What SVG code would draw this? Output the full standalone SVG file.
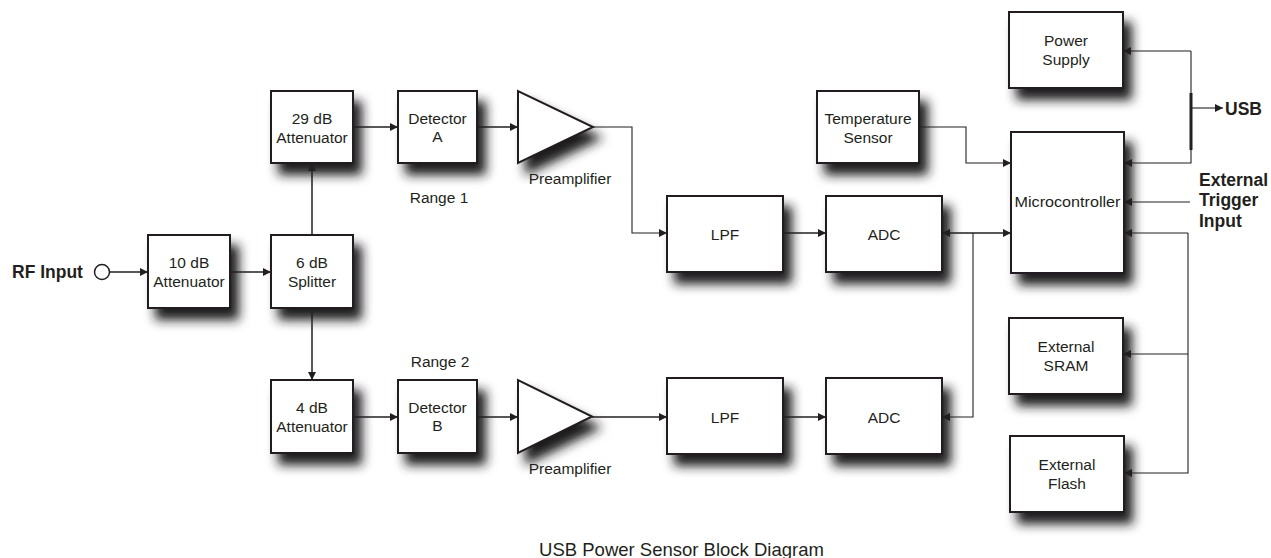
<svg xmlns="http://www.w3.org/2000/svg" width="1271" height="558" viewBox="0 0 1271 558">
<defs>
<filter id="sh" x="-30%" y="-30%" width="180%" height="190%">
<feDropShadow dx="8" dy="11" stdDeviation="5.5" flood-color="#1a1a1a" flood-opacity="1"/>
</filter>
<marker id="ah" viewBox="0 0 10 10" refX="10" refY="5" markerWidth="9" markerHeight="8" markerUnits="userSpaceOnUse" orient="auto-start-reverse">
<path d="M0,0 L10,5 L0,10 z" fill="#231f20"/>
</marker>
<style>
.box{fill:#fff;stroke:#231f20;stroke-width:2;filter:url(#sh)}
.t{font-family:"Liberation Sans",Arial,sans-serif;font-size:15.5px;fill:#231f20;text-anchor:middle}
.b{font-family:"Liberation Sans",Arial,sans-serif;font-size:17.5px;font-weight:bold;fill:#231f20}
.c{fill:none;stroke:#231f20;stroke-width:1.5}
.c2{fill:none;stroke:#231f20;stroke-width:1.1}
.a{marker-end:url(#ah)}
</style>
</defs>
<rect width="1271" height="558" fill="#fff"/>

<g id="nodes">
<g id="rf-input">
<text class="b" x="12" y="278">RF Input</text>
<circle cx="102" cy="272" r="7.5" fill="#fff" stroke="#231f20" stroke-width="1.5"/>
</g>
<g id="att10"><rect class="box" x="148" y="235" width="82" height="73"/>
<text class="t" x="189" y="268">10 dB</text><text class="t" x="189" y="287">Attenuator</text></g>
<g id="splitter"><rect class="box" x="271" y="235" width="82" height="73"/>
<text class="t" x="312" y="268">6 dB</text><text class="t" x="312" y="287">Splitter</text></g>
<g id="att29"><rect class="box" x="271" y="91" width="82" height="72"/>
<text class="t" x="312" y="123.5">29 dB</text><text class="t" x="312" y="142.5">Attenuator</text></g>
<g id="att4"><rect class="box" x="271" y="380" width="82" height="73"/>
<text class="t" x="312" y="412.5">4 dB</text><text class="t" x="312" y="431.5">Attenuator</text></g>
<g id="detA"><rect class="box" x="398" y="91" width="79" height="72"/>
<text class="t" x="437.5" y="123.5">Detector</text><text class="t" x="437.5" y="142">A</text></g>
<g id="detB"><rect class="box" x="398" y="380" width="79" height="73"/>
<text class="t" x="437.5" y="412.5">Detector</text><text class="t" x="437.5" y="431">B</text></g>
<g id="range1"><text class="t" x="439" y="203">Range 1</text></g>
<g id="range2"><text class="t" x="440" y="367">Range 2</text></g>
<g id="preampA"><path d="M518,91 L518,163 L593,127 Z" fill="#fff" stroke="#231f20" stroke-width="2" filter="url(#sh)"/>
<text class="t" x="570" y="184">Preamplifier</text></g>
<g id="preampB"><path d="M518,380 L518,453 L592,416.5 Z" fill="#fff" stroke="#231f20" stroke-width="2" filter="url(#sh)"/>
<text class="t" x="570" y="474">Preamplifier</text></g>
<g id="lpfA"><rect class="box" x="667" y="196" width="116" height="76"/>
<text class="t" x="725" y="239.5">LPF</text></g>
<g id="adcA"><rect class="box" x="826" y="196" width="116" height="76"/>
<text class="t" x="884" y="239.5">ADC</text></g>
<g id="lpfB"><rect class="box" x="667" y="378" width="116" height="76"/>
<text class="t" x="725" y="422.5">LPF</text></g>
<g id="adcB"><rect class="box" x="826" y="378" width="116" height="76"/>
<text class="t" x="884" y="422.5">ADC</text></g>
<g id="temp"><rect class="box" x="817" y="91" width="102" height="72"/>
<text class="t" x="868" y="123.5">Temperature</text><text class="t" x="868" y="142.5">Sensor</text></g>
<g id="power"><rect class="box" x="1009" y="12" width="114" height="76"/>
<text class="t" x="1066" y="46">Power</text><text class="t" x="1066" y="65">Supply</text></g>
<g id="micro"><rect class="box" x="1011" y="132" width="113" height="141"/>
<text class="t" x="1067.5" y="207" textLength="106" lengthAdjust="spacingAndGlyphs">Microcontroller</text></g>
<g id="sram"><rect class="box" x="1009" y="318" width="114" height="76"/>
<text class="t" x="1066" y="352">External</text><text class="t" x="1066" y="371">SRAM</text></g>
<g id="flash"><rect class="box" x="1010" y="436" width="114" height="76"/>
<text class="t" x="1067" y="470">External</text><text class="t" x="1067" y="489">Flash</text></g>
<g id="usb"><text class="b" x="1225" y="115">USB</text></g>
<g id="trigger"><text class="b" x="1199" y="186">External</text><text class="b" x="1199" y="206">Trigger</text><text class="b" x="1199" y="227">Input</text></g>
</g>

<g id="connectors">
<line class="c a" x1="109.5" y1="272" x2="148" y2="272"/>
<line class="c a" x1="230" y1="272" x2="271" y2="272"/>
<line class="c a" x1="312" y1="235" x2="312" y2="163"/>
<line class="c a" x1="312" y1="308" x2="312" y2="380"/>
<line class="c a" x1="353" y1="127" x2="398" y2="127"/>
<line class="c a" x1="477" y1="127" x2="518" y2="127"/>
<line class="c a" x1="353" y1="417" x2="398" y2="417"/>
<line class="c a" x1="477" y1="417" x2="518" y2="417"/>
<polyline class="c2 a" points="593,127 632,127 632,233 667,233"/>
<line class="c a" x1="592" y1="417" x2="667" y2="417"/>
<line class="c a" x1="783" y1="233" x2="826" y2="233"/>
<line class="c a" x1="783" y1="417" x2="826" y2="417"/>
<line class="c" x1="942" y1="233" x2="1011" y2="233" marker-start="url(#ah)" marker-end="url(#ah)"/>
<polyline class="c2 a" points="973,233 973,417 942,417"/>
<polyline class="c2 a" points="919,127 966,127 966,163 1011,163"/>
<polyline class="c2 a" points="1191,51 1123,51"/>
<polyline class="c2 a" points="1191,51 1191,163 1124,163"/>
<line x1="1191" y1="93" x2="1191" y2="150" stroke="#231f20" stroke-width="3"/>
<line class="c2 a" x1="1191" y1="108" x2="1223" y2="108"/>
<line class="c2 a" x1="1190" y1="202" x2="1124" y2="202"/>
<polyline class="c2 a" points="1188,233 1124,233"/>
<polyline class="c2 a" points="1188,233 1188,473 1124,473"/>
<line class="c2 a" x1="1188" y1="354" x2="1123" y2="354"/>
</g>

<g id="title"><text class="t" x="681.5" y="556" style="font-size:18.5px">USB Power Sensor Block Diagram</text></g>
</svg>
